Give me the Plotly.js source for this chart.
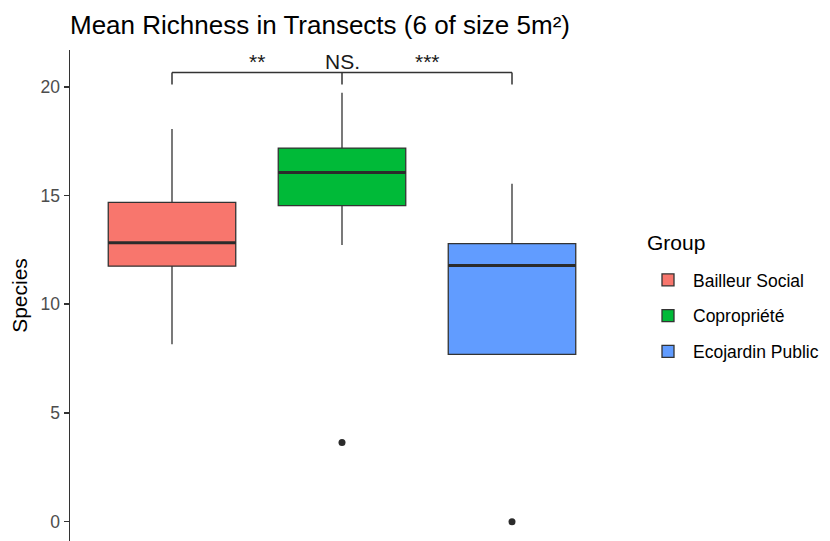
<!DOCTYPE html>
<html>
<head>
<meta charset="utf-8">
<script src="https://cdn.plot.ly/plotly-3.0.1.min.js"></script>
<style>html,body{margin:0;padding:0;background:#fff;}#chart{width:830px;height:541px;}</style>
</head>
<body>
<div id="chart"></div>
<script>
// ---- Data ----
const groups = ['Bailleur Social', 'Copropriété', 'Ecojardin Public'];
const groupPos = [1, 2, 3];
const q1 = [11.75, 14.53, 7.69];
const medians = [12.83, 16.06, 11.78];
const q3 = [14.68, 17.18, 12.79];
const lowerFence = [8.16, 12.72, 7.69];
const upperFence = [18.06, 19.72, 15.54];
const outlierPos = [2, 3];
const outlierValues = [3.64, 0];
const sigLabels = ['**', 'NS.', '***'];
const sigPos = [1.5, 2, 2.5];
const yTicks = [0, 5, 10, 15, 20];
const colors = ['#F8766D', '#00BA38', '#619CFF'];

const FONT = 'Liberation Sans, Arial, sans-serif';
const boxWidth = 0.75;

const traces = [];
groups.forEach((g, i) => {
  traces.push({
    type: 'box', name: g, legendgroup: g,
    x: [groupPos[i]],
    q1: [q1[i]], median: [medians[i]], q3: [q3[i]],
    lowerfence: [lowerFence[i]], upperfence: [upperFence[i]],
    width: boxWidth, whiskerwidth: 0, boxpoints: false,
    fillcolor: colors[i],
    line: {color: '#333333', width: 1.3},
    hoverinfo: 'skip'
  });
});
// thick median lines (ggplot style)
groups.forEach((g, i) => {
  traces.push({
    type: 'scatter', mode: 'lines', showlegend: false, hoverinfo: 'skip',
    x: [groupPos[i] - boxWidth / 2, groupPos[i] + boxWidth / 2],
    y: [medians[i], medians[i]],
    line: {color: '#2b2b2b', width: 3}
  });
});
// outliers
traces.push({
  type: 'scatter', mode: 'markers', showlegend: false, hoverinfo: 'skip',
  x: outlierPos, y: outlierValues,
  marker: {color: '#2b2b2b', size: 7}
});

const bracketY = 20.66, tipY = 20.1;
const shapes = [
  {type: 'line', xref: 'x', yref: 'y', x0: groupPos[0], x1: groupPos[2], y0: bracketY, y1: bracketY, line: {color: '#333', width: 1.5}},
];
groupPos.forEach(p => shapes.push({type: 'line', xref: 'x', yref: 'y', x0: p, x1: p, y0: bracketY, y1: tipY, line: {color: '#333', width: 1.5}}));

const annotations = sigLabels.map((t, i) => ({
  text: t, x: sigPos[i], y: bracketY, xref: 'x', yref: 'y',
  xanchor: 'center', yanchor: 'bottom', yshift: -3, showarrow: false,
  font: {family: FONT, size: 21, color: '#1a1a1a'}
}));
// legend title
annotations.push({
  text: 'Group', xref: 'paper', yref: 'paper', x: (645 - 70) / 544, y: (541 - 242) / 491,
  xanchor: 'left', yanchor: 'middle', showarrow: false,
  font: {family: FONT, size: 21, color: '#000'}
});

const layout = {
  width: 830, height: 541,
  margin: {l: 70, r: 216, t: 50, b: 0, pad: 0},
  paper_bgcolor: '#ffffff', plot_bgcolor: '#ffffff',
  font: {family: FONT},
  title: {text: 'Mean Richness in Transects (6 of size 5m²)', x: 70 / 830, xanchor: 'left', xref: 'container',
          y: 1 - 25 / 541, yanchor: 'middle', yref: 'container',
          font: {family: FONT, size: 26, color: '#000'}},
  showlegend: true,
  boxmode: 'overlay',
  xaxis: {range: [0.4, 3.6], visible: false, showgrid: false, zeroline: false, fixedrange: true},
  yaxis: {range: [-0.89, 21.69], tickvals: yTicks, ticktext: yTicks.map(String),
          showgrid: false, zeroline: false, showline: true, linecolor: '#333', linewidth: 1.5,
          ticks: 'outside', ticklen: 5, tickcolor: '#333', tickwidth: 1.5,
          tickfont: {family: FONT, size: 17.5, color: '#4d4d4d'},
          title: {text: 'Species', font: {family: FONT, size: 21, color: '#000'}, standoff: 7}},
  legend: {x: 643 / 830, xref: 'container', xanchor: 'left', y: 1 - 262 / 541, yref: 'container', yanchor: 'top',
           font: {family: FONT, size: 17.5, color: '#000'},
           itemwidth: 40,
           tracegroupgap: 10, traceorder: 'grouped', bgcolor: 'rgba(0,0,0,0)'},
  shapes: shapes,
  annotations: annotations
};

Plotly.newPlot('chart', traces, layout, {displayModeBar: false, staticPlot: true});
</script>
</body>
</html>
